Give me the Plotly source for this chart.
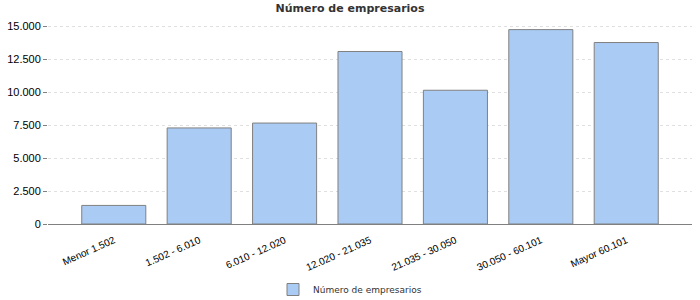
import plotly.graph_objects as go

categories = ["Menor 1.502", "1.502 - 6.010", "6.010 - 12.020", "12.020 - 21.035",
              "21.035 - 30.050", "30.050 - 60.101", "Mayor 60.101"]
values = [1410, 7290, 7660, 13090, 10150, 14750, 13770]
series_name = "Número de empresarios"
y_ticks = [0, 2500, 5000, 7500, 10000, 12500, 15000]
y_tick_labels = ["0", "2.500", "5.000", "7.500", "10.000", "12.500", "15.000"]

fig = go.Figure()
fig.add_trace(go.Bar(
    x=list(range(len(categories))), y=values, name=series_name,
    marker=dict(color="#AACBF4", line=dict(color="#808080", width=1)),
    width=0.75, showlegend=True,
))
fig.update_layout(
    width=700, height=300,
    margin=dict(l=48, r=8, t=25, b=76, autoexpand=False),
    paper_bgcolor="white", plot_bgcolor="white",
    title=dict(text="<b>" + series_name + "</b>", x=0.5, xanchor="center", y=0.985, yanchor="top",
               font=dict(family="DejaVu Sans", size=11, color="#333333")),
    font=dict(family="DejaVu Sans", color="#000000"),
    showlegend=True,
    legend=dict(orientation="h", xref="container", x=0.5, xanchor="center",
                yref="container", y=0.035, yanchor="middle",
                font=dict(family="DejaVu Sans", size=9, color="#333333"),
                itemwidth=30),
    bargap=0.25,
)
fig.update_xaxes(
    tickmode="array", tickvals=list(range(len(categories))), ticktext=categories,
    range=[-0.77, 6.77], tickangle=-24, ticks="", showgrid=False,
    ticklabelstandoff=6,
    showline=True, linecolor="#808080", linewidth=1,
    tickfont=dict(family="Liberation Sans", size=10, color="#000000"), zeroline=False,
)
fig.update_yaxes(
    tickmode="array", tickvals=y_ticks, ticktext=y_tick_labels,
    range=[0, 15100], ticks="outside", ticklen=4, tickcolor="#808080",
    showgrid=True, gridcolor="#E0E0E0", griddash="dot", gridwidth=1,
    showline=False, zeroline=False,
    tickfont=dict(family="Liberation Sans", size=11, color="#000000"),
)
fig.write_html("out.html")
